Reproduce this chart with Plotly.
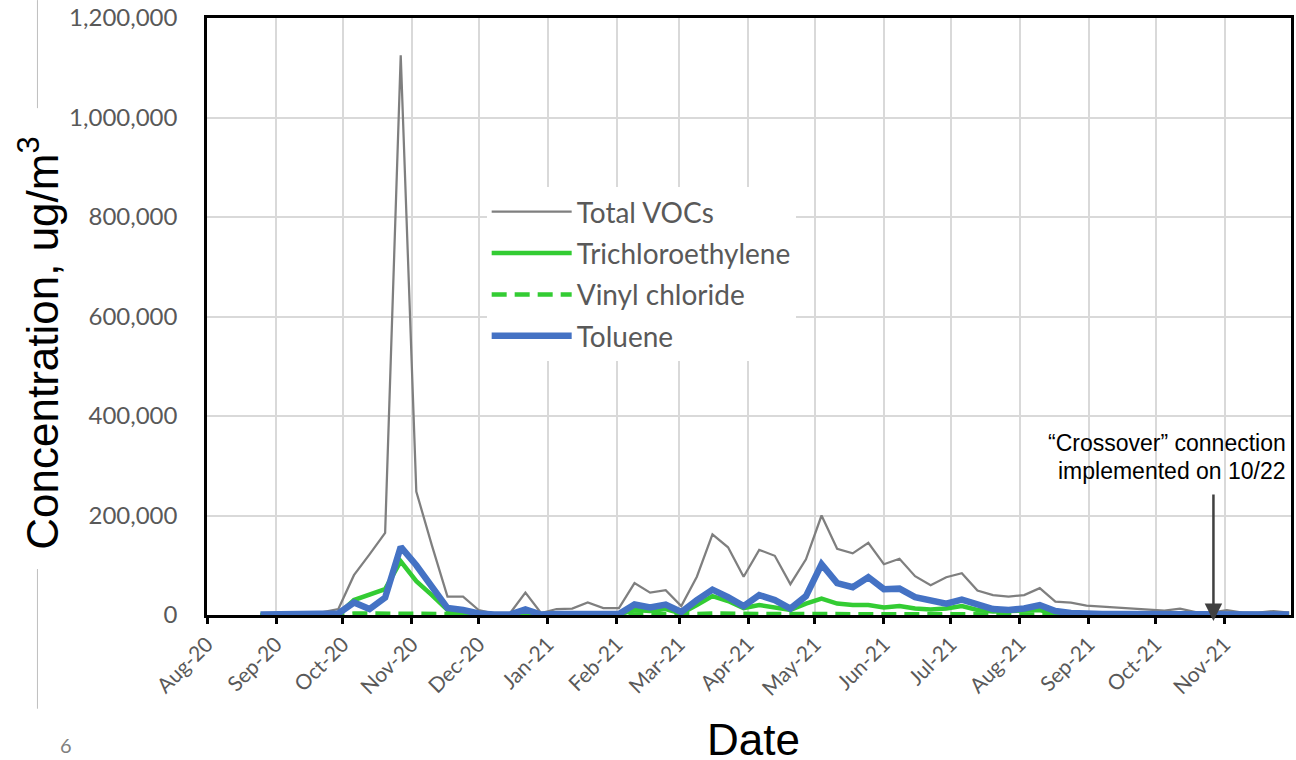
import plotly.graph_objects as go

dates = [
    "2020-08-25", "2020-09-01", "2020-09-08", "2020-09-15", "2020-09-22", "2020-09-29",
    "2020-10-06", "2020-10-13", "2020-10-20", "2020-10-27", "2020-11-03", "2020-11-10",
    "2020-11-17", "2020-11-24", "2020-12-01", "2020-12-08", "2020-12-15", "2020-12-22",
    "2020-12-29", "2021-01-05", "2021-01-12", "2021-01-19", "2021-01-26", "2021-02-02",
    "2021-02-09", "2021-02-16", "2021-02-23", "2021-03-02", "2021-03-09", "2021-03-16",
    "2021-03-23", "2021-03-30", "2021-04-06", "2021-04-13", "2021-04-20", "2021-04-27",
    "2021-05-04", "2021-05-11", "2021-05-18", "2021-05-25", "2021-06-01", "2021-06-08",
    "2021-06-15", "2021-06-22", "2021-06-29", "2021-07-06", "2021-07-13", "2021-07-20",
    "2021-07-27", "2021-08-03", "2021-08-10", "2021-08-17", "2021-08-24", "2021-08-31",
    "2021-09-07", "2021-09-14", "2021-09-21", "2021-09-28", "2021-10-05", "2021-10-12",
    "2021-10-19", "2021-10-26", "2021-11-02", "2021-11-09", "2021-11-16", "2021-11-23",
    "2021-11-30",
]

total_vocs = [
    1000, 1000, 2000, 3000, 6000, 12000,
    80000, 122000, 165000, 1125000, 248000, 140000,
    37000, 37000, 10000, 3000, 3000, 45000,
    4000, 12000, 13000, 25000, 14000, 14000,
    64000, 45000, 50000, 18000, 77000, 162000,
    136000, 77000, 131000, 119000, 62000, 112000,
    200000, 133000, 124000, 145000, 102000, 113000,
    78000, 60000, 76000, 84000, 49000, 40000,
    37000, 40000, 54000, 27000, 25000, 19000,
    17000, 15000, 12000, 10000, 9000, 13000,
    6000, 5000, 10000, 5000, 5000, 8000,
    5000,
]

trichloroethylene = [
    0, 0, 0, 0, 0, 1000,
    30000, 42000, 52000, 108000, 68000, 40000,
    10000, 3000, 1000, 0, 0, 3000,
    0, 1000, 1000, 2000, 1000, 1000,
    10000, 8000, 12000, 3000, 20000, 38000,
    28000, 14000, 20000, 15000, 10000, 23000,
    33000, 23000, 20000, 20000, 15000, 18000,
    13000, 11000, 13000, 18000, 10000, 7000,
    7000, 9000, 10000, 2000, 1000, 0,
    0, 0, 0, 0, 0, 0,
    0, 0, 0, 0, 0, 0,
    0,
]

vinyl_chloride = [
    0, 0, 0, 0, 0, 0,
    3000, 3000, 3000, 4000, 3000, 3000,
    2000, 1000, 0, 0, 0, 0,
    0, 0, 0, 1000, 0, 0,
    2000, 2000, 2000, 1000, 2000, 3000,
    2000, 2000, 2000, 2000, 2000, 3000,
    3000, 3000, 3000, 3000, 3000, 3000,
    2000, 2000, 2000, 2000, 2000, 2000,
    2000, 2000, 2000, 1000, 0, 0,
    0, 0, 0, 0, 0, 0,
    0, 0, 0, 0, 0, 0,
    0,
]

toluene = [
    1000, 1000, 1000, 1000, 2000, 3000,
    25000, 12000, 35000, 137000, 100000, 57000,
    14000, 10000, 3000, 1000, 1000, 11000,
    1000, 2000, 2000, 3000, 2000, 2000,
    21000, 15000, 21000, 6000, 30000, 51000,
    36000, 18000, 40000, 30000, 13000, 38000,
    102000, 64000, 56000, 76000, 52000, 53000,
    36000, 28000, 23000, 31000, 20000, 12000,
    10000, 13000, 20000, 8000, 4000, 2000,
    2000, 2000, 2000, 1000, 1000, 1000,
    1000, 1000, 1000, 1000, 1000, 1000,
    1000,
]

series_names = ["Total VOCs", "Trichloroethylene", "Vinyl chloride", "Toluene"]
y_tick_values = [0, 200000, 400000, 600000, 800000, 1000000, 1200000]

GRAY_TXT = "#595959"
fig = go.Figure()

fig.add_trace(go.Scatter(x=dates, y=total_vocs, mode="lines", name=series_names[0],
                         legendgroup="a", line=dict(color="#7f7f7f", width=2.25)))
fig.add_trace(go.Scatter(x=dates, y=trichloroethylene, mode="lines", name=series_names[1],
                         legendgroup="b", line=dict(color="#33cc33", width=4.5)))
fig.add_trace(go.Scatter(x=dates, y=vinyl_chloride, mode="lines", name=series_names[2],
                         legendgroup="c", line=dict(color="#33cc33", width=4.5, dash="15px,8px")))
fig.add_trace(go.Scatter(x=dates, y=toluene, mode="lines", name=series_names[3],
                         legendgroup="d", line=dict(color="#4472c4", width=6.5)))

fig.update_layout(
    width=1296, height=760,
    margin=dict(l=207, r=2, t=18, b=145),
    paper_bgcolor="white", plot_bgcolor="white",
    font=dict(family="Lato, Liberation Sans, sans-serif", color=GRAY_TXT),
    showlegend=True,
    legend=dict(
        x=0.258, y=0.717, xanchor="left", yanchor="top",
        bgcolor="white", borderwidth=0,
        font=dict(size=28, color=GRAY_TXT, family="Lato, sans-serif"),
        tracegroupgap=2, itemwidth=80,
    ),
    xaxis=dict(
        type="date",
        range=["2020-08-01", "2021-11-30 20:00"],
        tick0="2020-08-01", dtick="M1", tickformat="%b-%y",
        tickangle=-45,
        tickfont=dict(size=21, color=GRAY_TXT),
        showgrid=True, gridcolor="#d9d9d9", gridwidth=1.5,
        showline=True, linecolor="black", linewidth=2.5, mirror=True,
        ticks="outside", ticklen=6, tickwidth=2.5, tickcolor="black",
        zeroline=False, layer="below traces",
    ),
    yaxis=dict(
        range=[0, 1200000],
        tickvals=y_tick_values, tickformat=",d",
        tickfont=dict(size=24, color=GRAY_TXT),
        showgrid=True, gridcolor="#d9d9d9", gridwidth=1.5,
        showline=True, linecolor="black", linewidth=2.5, mirror=True,
        ticks="", ticklabelstandoff=22,
        zeroline=False, layer="below traces",
    ),
)

annotations = [
    dict(text="Concentration, ug/m<sup>3</sup>", xref="paper", yref="paper",
         x=-0.155, y=0.456, xanchor="center", yanchor="middle", textangle=-90,
         showarrow=False, font=dict(size=44, color="black", family="Liberation Sans, Arial, sans-serif")),
    dict(text="Date", xref="paper", yref="paper", x=0.504, y=-0.208,
         xanchor="center", yanchor="middle", showarrow=False,
         font=dict(size=44, color="black", family="Liberation Sans, Arial, sans-serif")),
    dict(text="6", xref="paper", yref="paper", x=-0.1305, y=-0.218,
         xanchor="center", yanchor="middle", showarrow=False,
         font=dict(size=20, color="#7f7f7f", family="Lato, sans-serif")),
    dict(text="\u201cCrossover\u201d connection", xref="paper", yref="paper",
         x=(1291 - 207) / 1087, y=(615 - 443) / 597, xanchor="right", yanchor="middle",
         showarrow=False, font=dict(size=23, color="black", family="Liberation Sans, Arial, sans-serif")),
    dict(text="implemented on 10/22", xref="paper", yref="paper",
         x=(1291 - 207) / 1087, y=(615 - 471) / 597, xanchor="right", yanchor="middle",
         showarrow=False, font=dict(size=23, color="black", family="Liberation Sans, Arial, sans-serif")),
    dict(text="", xref="x", yref="paper", x="2021-10-27", y=(615 - 621) / 597,
         showarrow=True, arrowhead=2, arrowsize=1.4, arrowwidth=2.5, arrowcolor="#404040",
         ax=0, ay=-128, axref="pixel", ayref="pixel", standoff=0),
]
fig.update_layout(annotations=annotations)

fig.update_layout(shapes=[
    dict(type="line", xref="paper", yref="paper", x0=-0.1564, x1=-0.1564,
         y0=1.03, y1=0.849, line=dict(color="#bfbfbf", width=1)),
    dict(type="line", xref="paper", yref="paper", x0=-0.1564, x1=-0.1564,
         y0=0.077, y1=-0.157, line=dict(color="#bfbfbf", width=1)),
])

fig.write_html(
    "out.html",
    config={"displayModeBar": False},
    post_script="document.body.style.margin='0';document.body.style.overflow='hidden';",
)
